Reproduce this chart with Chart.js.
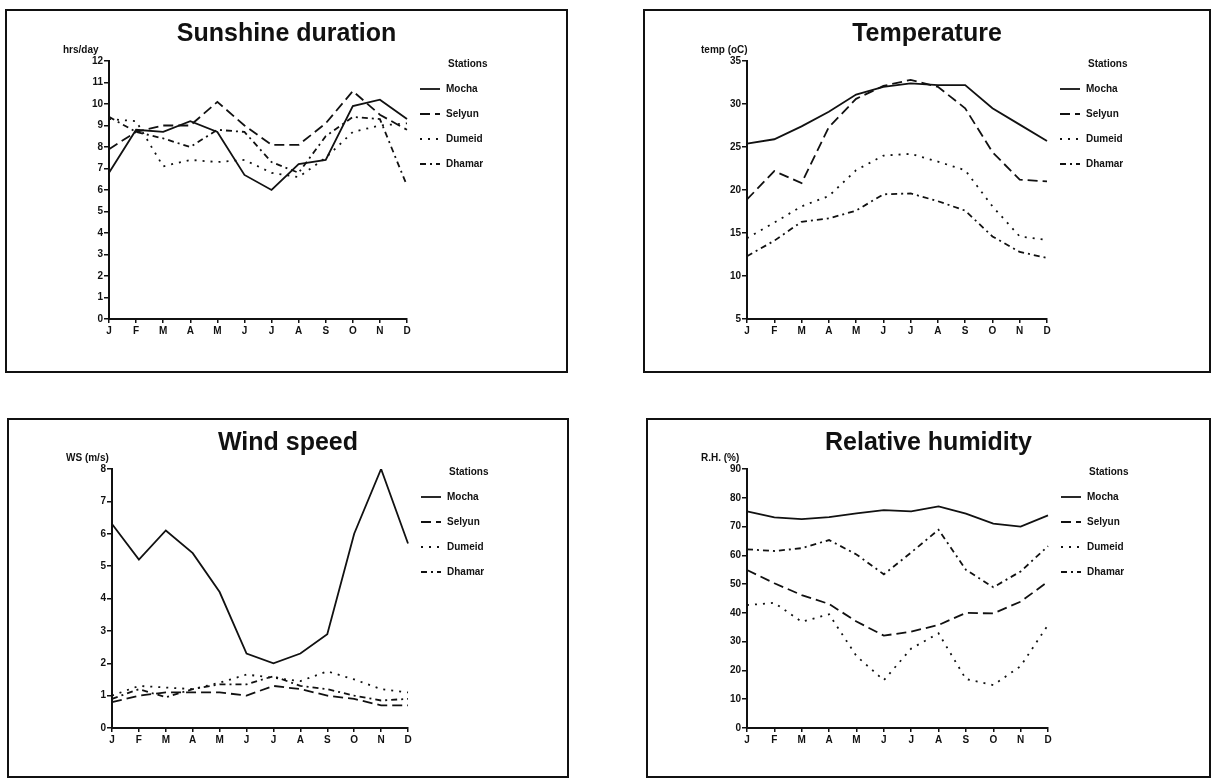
<!DOCTYPE html>
<html>
<head>
<meta charset="utf-8">
<title>Climate of the stations</title>
<script src="https://cdn.jsdelivr.net/npm/chart.js@4.4.1/dist/chart.umd.min.js"></script>
<style>
    body { margin: 0; background: #fff; width: 1216px; height: 779px; position: relative; overflow: hidden; }
    .panel { position: absolute; border: 2px solid #111; background: #fff; }
    .panel canvas { display: block; }
</style>
</head>
<body>
<div class="panel" style="left:5px;top:9px;"><canvas id="sunChart" width="559" height="360"></canvas></div>
<div class="panel" style="left:643px;top:9px;"><canvas id="tempChart" width="564" height="360"></canvas></div>
<div class="panel" style="left:7px;top:418px;"><canvas id="windChart" width="558" height="356"></canvas></div>
<div class="panel" style="left:646px;top:418px;"><canvas id="rhChart" width="561" height="356"></canvas></div>
<script>
// Month initials and station names
var months = ['J', 'F', 'M', 'A', 'M', 'J', 'J', 'A', 'S', 'O', 'N', 'D'];
var stations = ['Mocha', 'Selyun', 'Dumeid', 'Dhamar'];

// Sunshine duration (hrs/day)
var sunMocha  = [6.8, 8.8, 8.7, 9.2, 8.7, 6.7, 6.0, 7.2, 7.4, 9.9, 10.2, 9.3];
var sunSelyun = [7.9, 8.7, 9.0, 9.0, 10.1, 9.0, 8.1, 8.1, 9.1, 10.6, 9.5, 8.8];
var sunDumeid = [9.3, 9.2, 7.1, 7.4, 7.3, 7.4, 6.8, 6.6, 7.5, 8.7, 9.0, 9.1];
var sunDhamar = [9.4, 8.7, 8.4, 8.0, 8.8, 8.7, 7.3, 6.8, 8.5, 9.4, 9.3, 6.2];

// Temperature (oC)
var tempMocha  = [25.4, 25.9, 27.4, 29.1, 31.1, 32.0, 32.4, 32.2, 32.2, 29.5, 27.6, 25.7];
var tempSelyun = [18.9, 22.2, 20.8, 27.3, 30.6, 32.1, 32.8, 32.0, 29.5, 24.4, 21.2, 21.0];
var tempDumeid = [14.4, 16.2, 18.1, 19.3, 22.3, 24.0, 24.2, 23.3, 22.3, 18.1, 14.6, 14.2];
var tempDhamar = [12.3, 14.1, 16.3, 16.7, 17.6, 19.5, 19.6, 18.7, 17.6, 14.6, 12.8, 12.1];

// Wind speed (m/s)
var windMocha  = [6.3, 5.2, 6.1, 5.4, 4.2, 2.3, 2.0, 2.3, 2.9, 6.0, 8.0, 5.7];
var windSelyun = [0.8, 1.0, 1.1, 1.1, 1.1, 1.0, 1.3, 1.2, 1.0, 0.9, 0.7, 0.7];
var windDumeid = [1.0, 1.3, 1.25, 1.2, 1.4, 1.65, 1.55, 1.45, 1.75, 1.5, 1.2, 1.1];
var windDhamar = [0.9, 1.2, 0.95, 1.2, 1.35, 1.35, 1.6, 1.3, 1.2, 1.0, 0.85, 0.9];

// Relative humidity (%)
var rhMocha  = [75.3, 73.2, 72.6, 73.3, 74.6, 75.7, 75.3, 77.0, 74.5, 71.0, 70.0, 73.9];
var rhSelyun = [54.9, 50.3, 46.2, 43.1, 37.0, 32.1, 33.5, 35.8, 40.0, 39.8, 43.9, 50.9];
var rhDumeid = [42.7, 43.5, 36.9, 39.5, 25.0, 16.6, 27.6, 32.9, 17.0, 14.9, 21.5, 35.8];
var rhDhamar = [62.1, 61.5, 62.5, 65.3, 60.3, 53.4, 61.0, 68.9, 55.0, 48.9, 54.4, 63.2];

var ink = '#111';
var fontFamily = '"Liberation Sans", Arial, Helvetica, sans-serif';
// line style per station: solid, long dash, dots, dash-dot
var stationDash = [[], [10, 5], [2, 6], [6, 4, 2, 4]];

// Draws the unit label above the y axis and the "Stations" key on the right.
var stationKeyPlugin = {
    id: 'stationKey',
    afterDraw: function(chart, args, opts) {
        var ctx = chart.ctx;
        var area = chart.chartArea;
        ctx.save();
        ctx.fillStyle = ink;
        ctx.strokeStyle = ink;
        ctx.textBaseline = 'middle';
        ctx.textAlign = 'left';
        ctx.font = 'bold 10px ' + fontFamily;
        ctx.fillText(opts.unit, area.left - 46, area.top - 11);

        var lineX = area.right + 13;
        ctx.fillText('Stations', lineX + 28, area.top + 3);
        chart.data.datasets.forEach(function(ds, i) {
            var y = area.top + 28 + i * 25;
            ctx.lineWidth = ds.borderWidth;
            ctx.setLineDash(ds.borderDash);
            ctx.beginPath();
            ctx.moveTo(lineX, y);
            ctx.lineTo(lineX + 20, y);
            ctx.stroke();
            ctx.setLineDash([]);
            ctx.fillText(ds.label, lineX + 26, y);
        });
        ctx.restore();
    }
};

function makePanel(canvasId, title, unit, series, yMin, yMax, yStep, box) {
    var canvas = document.getElementById(canvasId);
    if (!canvas) {
        console.error("Canvas '" + canvasId + "' not found!");
        return;
    }
    var datasets = series.map(function(values, i) {
        return {
            label: stations[i],
            data: values,
            borderColor: ink,
            borderWidth: 1.8,
            borderDash: stationDash[i],
            pointRadius: 0,
            tension: 0,
            fill: false
        };
    });
    var tickFont = { family: fontFamily, size: 10, weight: 'bold' };
    return new Chart(canvas.getContext('2d'), {
        type: 'line',
        data: { labels: months, datasets: datasets },
        plugins: [stationKeyPlugin],
        options: {
            responsive: false,
            animation: false,
            layout: { padding: 0 },
            scales: {
                x: {
                    grid: { drawOnChartArea: false, drawTicks: true, tickLength: 4, color: ink, lineWidth: 1.5 },
                    border: { display: true, color: ink, width: 2 },
                    ticks: { color: ink, font: tickFont, padding: 2, maxRotation: 0, autoSkip: false },
                    afterFit: function(scale) { scale.height = canvas.height - box.bottom; }
                },
                y: {
                    min: yMin,
                    max: yMax,
                    grid: { drawOnChartArea: false, drawTicks: true, tickLength: 5, color: ink, lineWidth: 1.5 },
                    border: { display: true, color: ink, width: 2 },
                    ticks: { stepSize: yStep, color: ink, font: tickFont, padding: 1 },
                    afterFit: function(scale) { scale.width = box.left; }
                },
                // empty axis on the right that keeps room for the station key
                keySpace: {
                    type: 'linear',
                    position: 'right',
                    grid: { display: false },
                    border: { display: false },
                    ticks: { display: false },
                    afterFit: function(scale) { scale.width = canvas.width - box.right; }
                }
            },
            plugins: {
                legend: { display: false },
                tooltip: { enabled: false },
                title: {
                    display: true,
                    text: title,
                    color: ink,
                    font: { family: fontFamily, size: 25, weight: 'bold', lineHeight: 1.2 },
                    padding: { top: 8, bottom: box.top - 38 }
                },
                stationKey: { unit: unit }
            }
        }
    });
}

makePanel('sunChart', 'Sunshine duration', 'hrs/day',
    [sunMocha, sunSelyun, sunDumeid, sunDhamar], 0, 12, 1,
    { left: 102, right: 400, top: 50, bottom: 308 });
makePanel('tempChart', 'Temperature', 'temp (oC)',
    [tempMocha, tempSelyun, tempDumeid, tempDhamar], 5, 35, 5,
    { left: 102, right: 402, top: 50, bottom: 308 });
makePanel('windChart', 'Wind speed', 'WS (m/s)',
    [windMocha, windSelyun, windDumeid, windDhamar], 0, 8, 1,
    { left: 103, right: 399, top: 49, bottom: 308 });
makePanel('rhChart', 'Relative humidity', 'R.H. (%)',
    [rhMocha, rhSelyun, rhDumeid, rhDhamar], 0, 90, 10,
    { left: 99, right: 400, top: 49, bottom: 308 });
</script>
</body>
</html>
